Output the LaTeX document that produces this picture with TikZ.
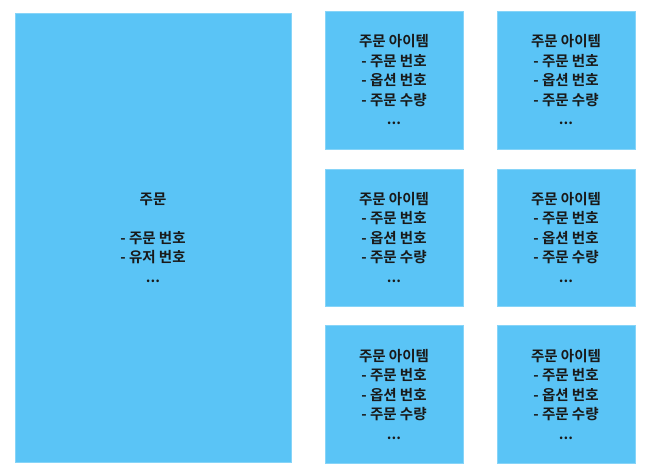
\documentclass[tikz,border=0pt]{standalone}
\usepackage{fontspec}
\newfontfamily\kr{Noto Sans CJK KR}[BoldFont={* Bold}]
\definecolor{boxfill}{HTML}{5AC4F6}
\definecolor{boxline}{HTML}{86D4F8}
\begin{document}
\begin{tikzpicture}[x=1pt,y=-1pt,
  blk/.style={draw=boxline, line width=0.8pt, fill=boxfill, inner sep=0pt, align=center,
    font=\kr\bfseries\fontsize{14.5}{19.5}\selectfont, text=black!90}]
\useasboundingbox (0,0) rectangle (645,473);
\node[blk, minimum width=276pt, minimum height=449pt] (order) at (153,237.5) {주문\\[19.5pt]- 주문 번호\\- 유저 번호\\...};
\node[blk, minimum width=138pt, minimum height=138pt] (i1) at (394,80) {주문 아이템\\- 주문 번호\\- 옵션 번호\\- 주문 수량\\...};
\node[blk, minimum width=138pt, minimum height=138pt] (i2) at (566,80) {주문 아이템\\- 주문 번호\\- 옵션 번호\\- 주문 수량\\...};
\node[blk, minimum width=138pt, minimum height=137pt] (i3) at (394,237.5) {주문 아이템\\- 주문 번호\\- 옵션 번호\\- 주문 수량\\...};
\node[blk, minimum width=138pt, minimum height=137pt] (i4) at (566,237.5) {주문 아이템\\- 주문 번호\\- 옵션 번호\\- 주문 수량\\...};
\node[blk, minimum width=138pt, minimum height=138pt] (i5) at (394,394.5) {주문 아이템\\- 주문 번호\\- 옵션 번호\\- 주문 수량\\...};
\node[blk, minimum width=138pt, minimum height=138pt] (i6) at (566,394.5) {주문 아이템\\- 주문 번호\\- 옵션 번호\\- 주문 수량\\...};
\end{tikzpicture}
\end{document}
